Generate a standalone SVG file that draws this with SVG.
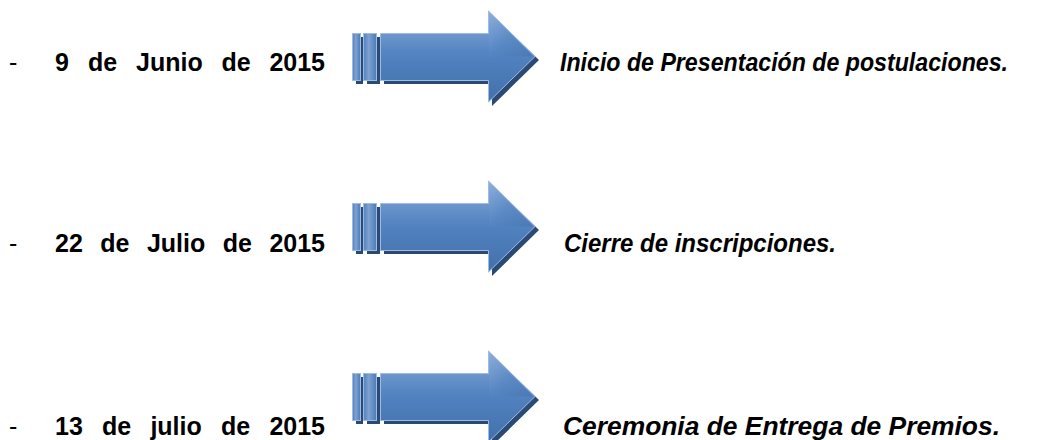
<svg xmlns="http://www.w3.org/2000/svg" width="1046" height="440" viewBox="0 0 1046 440">
  <style>
    .date { font-family: "Liberation Sans", Arial, sans-serif; font-weight: bold; font-size: 25px; fill: #000; }
    .dash { font-family: "Liberation Sans", Arial, sans-serif; font-size: 25px; fill: #000; }
    .lbl { font-family: "Liberation Sans", Arial, sans-serif; font-weight: bold; font-style: italic; font-size: 25px; fill: #000; }
    .shadow { fill: #2b4a73; }
    .face { fill: url(#bodyGrad); stroke: #9dbbe3; stroke-width: 1; }
    .strip { fill: url(#stripGrad); stroke: #9dbbe3; stroke-width: 1; }
  </style>
  <defs>
    <linearGradient id="bodyGrad" x1="0" y1="0" x2="0" y2="1">
      <stop offset="0" stop-color="#8aabd8"/>
      <stop offset="0.45" stop-color="#5585c2"/>
      <stop offset="0.55" stop-color="#4f80bd"/>
      <stop offset="1" stop-color="#4370aa"/>
    </linearGradient>
    <linearGradient id="stripGrad" x1="0" y1="0" x2="1" y2="0">
      <stop offset="0" stop-color="#4f80bd"/>
      <stop offset="0.4" stop-color="#7fa2d2"/>
      <stop offset="1" stop-color="#4a7bb8"/>
    </linearGradient>
    <linearGradient id="headGrad" x1="0" y1="0" x2="1" y2="1">
      <stop offset="0" stop-color="#8fb0dc"/>
      <stop offset="0.5" stop-color="#5686c3"/>
      <stop offset="1" stop-color="#4472ad"/>
    </linearGradient>
    <g id="arrow">
      <rect class="shadow" x="356" y="37" width="7" height="47"/>
      <rect class="shadow" x="367" y="37" width="13" height="47"/>
      <polygon class="shadow" points="384,37 492,37 492,15 539,60 492,106 492,84 384,84"/>
      <rect class="strip" x="352.5" y="33.5" width="8" height="47"/>
      <rect class="strip" x="363.5" y="33.5" width="13" height="47"/>
      <polygon class="face" points="380.5,33.5 488.5,33.5 488.5,11 535,56.5 488.5,102 488.5,80.5 380.5,80.5"/>
      <polygon fill="url(#headGrad)" opacity="0.6" points="489,13 533,56.5 489,56.5"/>
    </g>
  </defs>

  <g id="row1">
    <text class="dash" x="9" y="71">-</text>
    <g id="date1" class="date">
      <text x="55" y="71">9</text>
      <text x="88" y="71">de</text>
      <text x="136" y="71">Junio</text>
      <text x="221.5" y="71">de</text>
      <text x="269.4" y="71">2015</text>
    </g>
    <g id="arrow1"><use href="#arrow"/></g>
    <g id="label1">
      <text class="lbl" x="560" y="71" textLength="448" lengthAdjust="spacingAndGlyphs">Inicio de Presentación de postulaciones.</text>
    </g>
  </g>

  <g id="row2">
    <text class="dash" x="9" y="252">-</text>
    <g id="date2" class="date">
      <text x="55" y="252">22</text>
      <text x="100.2" y="252">de</text>
      <text x="146.9" y="252">Julio</text>
      <text x="222.7" y="252">de</text>
      <text x="269.4" y="252">2015</text>
    </g>
    <g id="arrow2"><use href="#arrow" transform="translate(0,170)"/></g>
    <g id="label2">
      <text class="lbl" x="564" y="252" textLength="272" lengthAdjust="spacingAndGlyphs">Cierre de inscripciones.</text>
    </g>
  </g>

  <g id="row3">
    <text class="dash" x="9" y="435">-</text>
    <g id="date3" class="date">
      <text x="55" y="435">13</text>
      <text x="102" y="435">de</text>
      <text x="150.4" y="435">julio</text>
      <text x="221" y="435">de</text>
      <text x="269.4" y="435">2015</text>
    </g>
    <g id="arrow3"><use href="#arrow" transform="translate(0,340)"/></g>
    <g id="label3">
      <text class="lbl" x="563" y="435" textLength="437" lengthAdjust="spacingAndGlyphs">Ceremonia de Entrega de Premios.</text>
    </g>
  </g>
</svg>
